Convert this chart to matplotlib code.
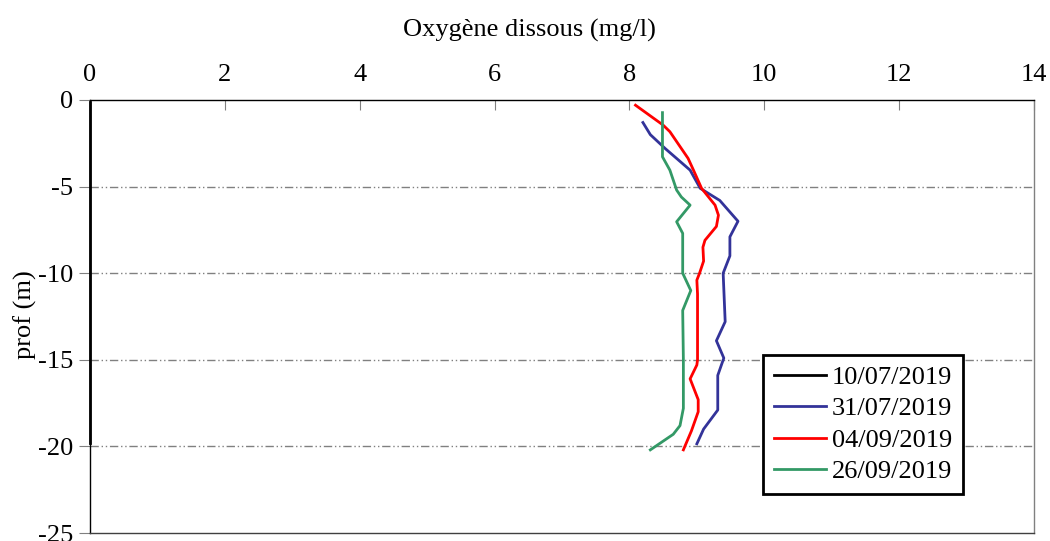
import matplotlib
matplotlib.use('Agg')
import matplotlib.pyplot as plt

plt.rcParams['font.family'] = ['Liberation Serif', 'DejaVu Serif']
plt.rcParams['axes.unicode_minus'] = False

# profils d'oxygene dissous (mg/l) en fonction de la profondeur (m)
dates = ['10/07/2019', '31/07/2019', '04/09/2019', '26/09/2019']
colors = ['#000000', '#333399', '#ff0000', '#339966']

prof_1 = [-0.1, -5.0, -10.0, -15.0, -19.8]
oxy_1 = [0, 0, 0, 0, 0]

prof_2 = [-1.3, -2.0, -2.8, -4.05, -5.1, -5.8, -7.0, -7.9, -9.0, -10.0,
          -12.8, -13.9, -14.9, -15.9, -17.9, -19.0, -19.85]
oxy_2 = [8.20, 8.31, 8.53, 8.90, 9.05, 9.34, 9.61, 9.49, 9.49, 9.39,
         9.42, 9.29, 9.40, 9.31, 9.31, 9.10, 9.00]

prof_3 = [-0.3, -1.45, -1.83, -3.37, -4.05, -5.1, -6.07, -6.65, -7.3, -8.1,
          -8.5, -9.3, -10.0, -10.4, -11.2, -15.0, -15.3, -16.1, -17.3, -18.0,
          -19.1, -20.2]
oxy_3 = [8.09, 8.50, 8.60, 8.87, 8.95, 9.07, 9.27, 9.32, 9.29, 9.12,
         9.09, 9.10, 9.04, 9.00, 9.01, 9.01, 9.00, 8.90, 9.02, 9.02,
         8.92, 8.80]

prof_4 = [-0.73, -3.28, -4.05, -5.2, -5.6, -6.07, -7.03, -7.7, -10.0, -11.0,
          -12.15, -15.0, -17.8, -18.8, -19.3, -20.2]
oxy_4 = [8.49, 8.49, 8.60, 8.70, 8.77, 8.90, 8.70, 8.79, 8.79, 8.91,
         8.79, 8.80, 8.80, 8.75, 8.65, 8.31]

profs = [prof_1, prof_2, prof_3, prof_4]
oxys = [oxy_1, oxy_2, oxy_3, oxy_4]

fs = 19

fig = plt.figure(figsize=(10.5, 5.41), dpi=100)
ax = fig.add_axes([90 / 1050, 1 - 533 / 541, 944 / 1050, 433 / 541])

for y in [-5, -10, -15, -20]:
    ax.axhline(y, color='#808080', lw=1, dashes=(6, 2, 1, 2, 1, 2), zorder=1)

for o, p, c, d in zip(oxys, profs, colors, dates):
    ax.plot(o, p, color=c, lw=2, label=d, zorder=3, clip_on=False)

ax.set_xlim(0, 14)
ax.set_ylim(-25, 0)
ax.set_xticks(range(0, 15, 2))
ax.set_yticks(range(-25, 1, 5))
ax.xaxis.tick_top()
ax.tick_params(axis='x', direction='in', length=7, color='#808080',
               labelsize=fs, pad=10)
ax.tick_params(axis='y', direction='out', length=8, color='#808080',
               labelsize=fs, pad=4)

ax.spines['top'].set_color('black')
ax.spines['left'].set_color('black')
ax.spines['right'].set_color('#808080')
ax.spines['bottom'].set_color('#404040')
for s in ax.spines.values():
    s.set_linewidth(1)

fig.text(529 / 1050, 1 - 30 / 541, 'Oxygène dissous (mg/l)', ha='center',
         va='center', fontsize=fs)
fig.text(25 / 1050, 1 - 315 / 541, 'prof (m)', ha='center', va='center',
         rotation=90, fontsize=fs)

leg = ax.legend(loc='upper left', bbox_to_anchor=(673 / 944, 178 / 433),
                fontsize=fs, frameon=True, fancybox=False, handlelength=2.0,
                handletextpad=0.2, borderpad=0.4, labelspacing=0.3,
                borderaxespad=0)
leg.get_frame().set_edgecolor('black')
leg.get_frame().set_linewidth(2)
leg.get_frame().set_alpha(1)

fig.savefig('out.png', dpi=100)
